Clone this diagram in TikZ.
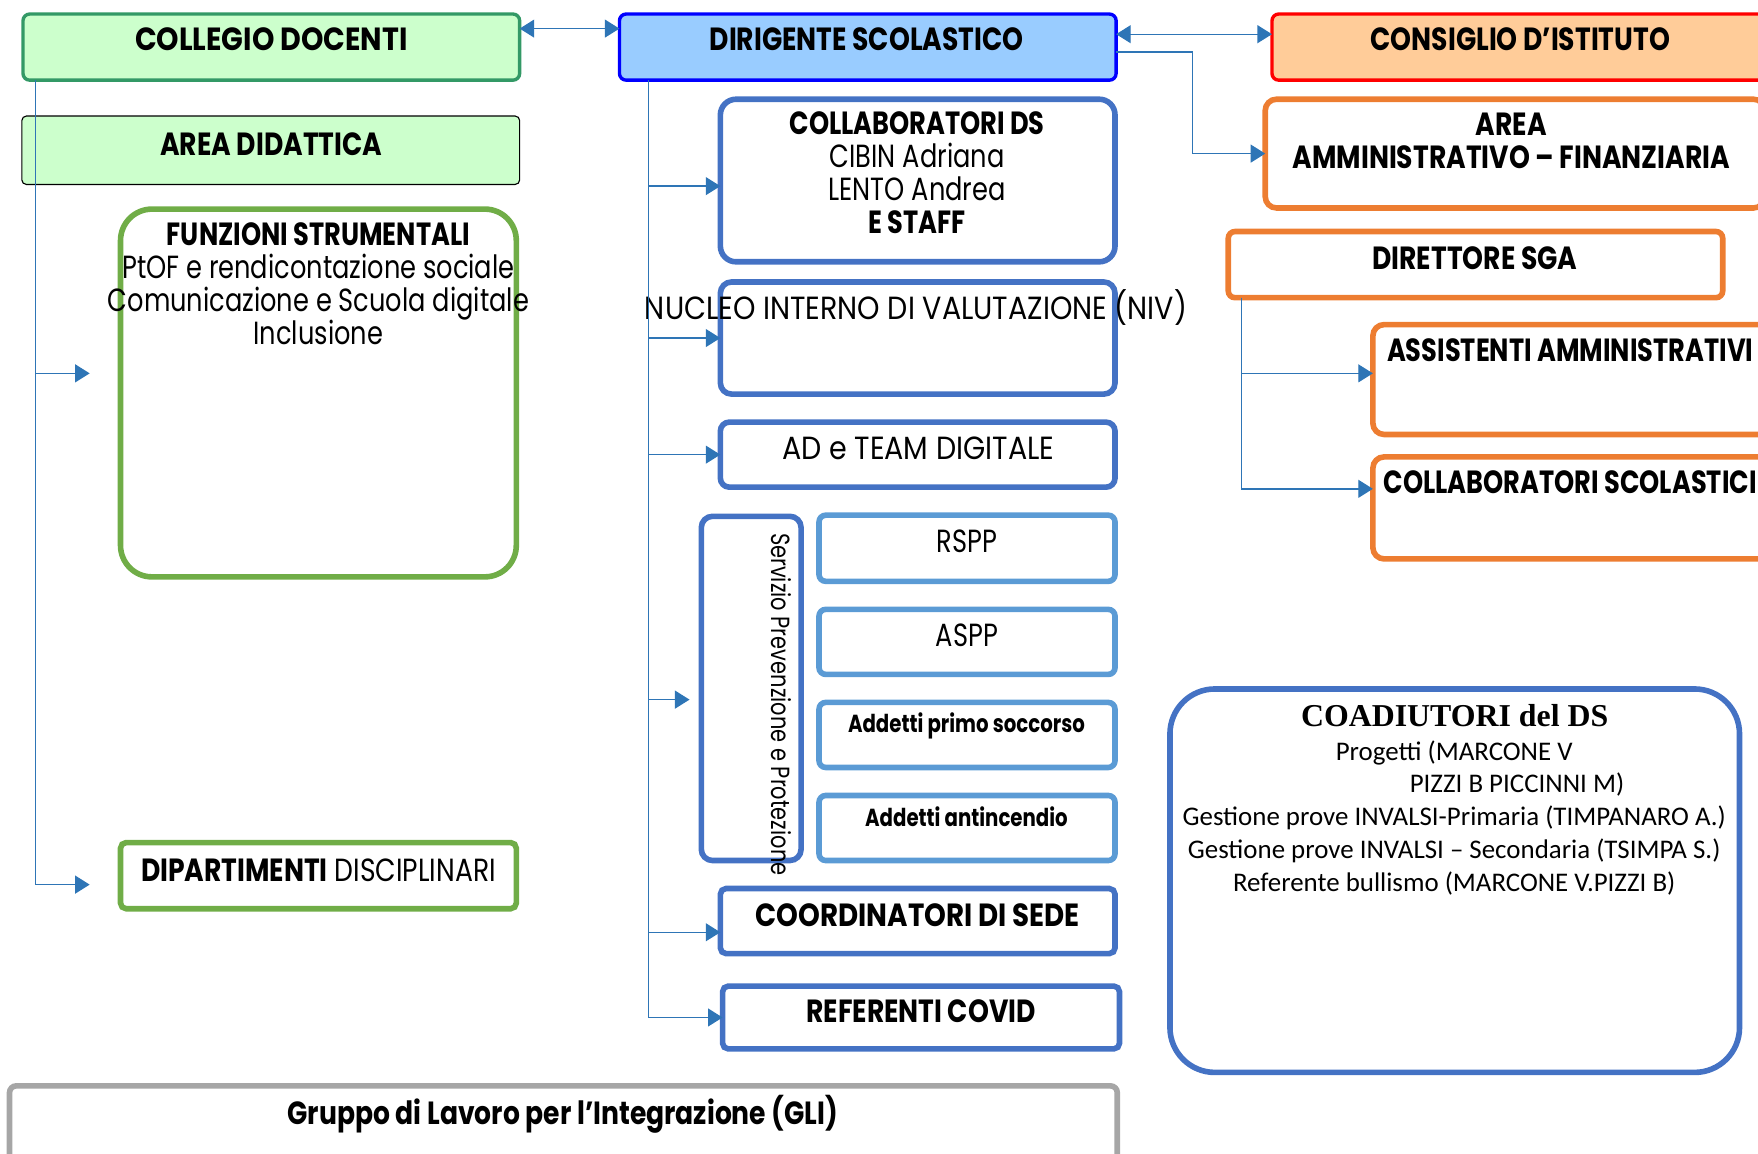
\documentclass[tikz,border=0pt]{standalone}
\usepackage{fontspec}
\usetikzlibrary{arrows.meta,fit,calc}
\newfontfamily\pop[FakeStretch=0.8]{Poppins}
\newfontfamily\popA[FakeStretch=0.83]{Poppins}
\newfontfamily\popC[FakeStretch=0.865]{Poppins}
\newfontfamily\popB[FakeStretch=0.89]{Poppins}
\newfontfamily\carl{Carlito}
\newfontfamily\tnr{Liberation Serif}
\newcommand\rowsm[1]{\smash{#1}}
\definecolor{grfill}{HTML}{CCFFCC}
\definecolor{grdark}{HTML}{339966}
\definecolor{grline}{HTML}{70AD47}
\definecolor{dsfill}{HTML}{99CCFF}
\definecolor{dsline}{HTML}{0000FF}
\definecolor{cifill}{HTML}{FFCC99}
\definecolor{ciline}{HTML}{FF0000}
\definecolor{bline}{HTML}{4472C4}
\definecolor{lbline}{HTML}{5B9BD5}
\definecolor{orline}{HTML}{ED7D31}
\definecolor{gyline}{HTML}{A6A6A6}
\definecolor{connc}{HTML}{2E75B6}
\tikzset{
  bx/.style={fit={#1}, inner sep=0pt, outer sep=0pt},
  collegioS/.style={draw=grdark, fill=grfill, line width=1.5pt, rounded corners=3pt},
  dirigS/.style={draw=dsline, fill=dsfill, line width=1.5pt, rounded corners=3pt},
  consS/.style={draw=ciline, fill=cifill, line width=1.5pt, rounded corners=3pt},
  areadS/.style={draw=black, fill=grfill, line width=0.5pt, rounded corners=2pt},
  greenS/.style={draw=grline, line width=2.5pt, rounded corners=#1},
  blueS/.style={draw=bline, line width=2.5pt, rounded corners=#1},
  lblueS/.style={draw=lbline, line width=2.5pt, rounded corners=3pt},
  orS/.style={draw=orline, line width=2.5pt, rounded corners=#1},
  grayS/.style={draw=gyline, line width=2.5pt, rounded corners=3pt},
  conn/.style={draw=connc, line width=0.6pt},
  arr/.style={-{Triangle[length=6.5pt,width=8pt]}},
  darr/.style={{Triangle[length=6.5pt,width=8pt]}-{Triangle[length=6.5pt,width=8pt]}},
  hb/.style={anchor=base, inner sep=0pt, font={\fontsize{14.3}{14.75}\pop\bfseries}},
  hbw/.style={anchor=base, inner sep=0pt, font={\fontsize{14.3}{14.75}\popA\bfseries}},
  hr/.style={anchor=base, inner sep=0pt, font={\fontsize{14.3}{14.7}\pop}},
  hrw/.style={anchor=base, inner sep=0pt, font={\fontsize{14.3}{14.7}\popB}},
  sb/.style={anchor=base, inner sep=0pt, font={\fontsize{11}{13}\pop\bfseries}},
  cal/.style={anchor=base, inner sep=0pt, font={\fontsize{12}{14.6}\carl}},
}
\begin{document}
\begin{tikzpicture}[x=0.5pt,y=-0.5pt]
\useasboundingbox (0,0) rectangle (1568,1029);
\clip (0,0) rectangle (1568,1029);
% ---- boxes
\node[bx={(20.5,12.5)(463.5,71.5)}, collegioS] (collegio) {};
\node[bx={(552.5,12.5)(995.5,71.5)}, dirigS] (dirig) {};
\node[bx={(1134.5,12.5)(1580,71.5)}, consS] (consig) {};
\node[bx={(19.5,103.5)(463.5,164.5)}, areadS] (aread) {};
\node[bx={(107.5,186.5)(460.5,514.5)}, greenS=14pt] (funz) {};
\node[bx={(107.5,751.5)(460.5,810.5)}, greenS=2.5pt] (dip) {};
\node[bx={(642.5,88.5)(994.5,233.5)}, blueS=7pt] (collab) {};
\node[bx={(642.5,251.5)(994.5,351.5)}, blueS=5pt] (niv) {};
\node[bx={(642.5,376.5)(994.5,434.5)}, blueS=4pt] (ad) {};
\node[bx={(625.5,460.5)(714.5,767.5)}, blueS=5pt] (serv) {};
\node[bx={(730.5,459.5)(994.5,518.5)}, lblueS] (rspp) {};
\node[bx={(730.5,543.5)(994.5,601.5)}, lblueS] (aspp) {};
\node[bx={(730.5,626.5)(994.5,684.5)}, lblueS] (aps) {};
\node[bx={(730.5,709.5)(994.5,767.5)}, lblueS] (aai) {};
\node[bx={(642.5,792.5)(994.5,850.5)}, blueS=2.5pt] (coord) {};
\node[bx={(644.5,879.5)(998.5,935.5)}, blueS=2.5pt] (covid) {};
\node[bx={(1128.5,88.5)(1574,185.5)}, orS=5pt] (areaamm) {};
\node[bx={(1095.5,206.5)(1536.5,265.5)}, orS=3pt] (dsga) {};
\node[bx={(1224.5,289.5)(1580,387.5)}, orS=5pt] (assist) {};
\node[bx={(1224.5,407.5)(1580,498.5)}, orS=5pt] (collsc) {};
\node[bx={(1043.5,614.5)(1551.5,956.5)}, blueS=20pt] (coad) {};
\node[bx={(8.5,968.5)(996.5,1045)}, grayS] (gli) {};
% ---- texts
\node[hb, font={\fontsize{14.3}{14.75}\popB\bfseries}] (collegio-t) at (242,45) {COLLEGIO DOCENTI};
\node[hbw] (dirig-t) at (773,45) {DIRIGENTE SCOLASTICO};
\node[hbw] (consig-t) at (1356,45) {CONSIGLIO D’ISTITUTO};
\node[hbw] (aread-t) at (242,139) {AREA DIDATTICA};
\node[hr] (funz-t) at (284,219) {\begin{tabular}[t]{@{}c@{}}\rowsm{\bfseries FUNZIONI STRUMENTALI}\\
\rowsm{PtOF e rendicontazione sociale}\\ \rowsm{Comunicazione e Scuola digitale}\\ \rowsm{Inclusione}\end{tabular}};
\node[hr, font={\fontsize{14.3}{14.6}\popA}] (dip-t) at (284,786) {\bfseries DIPARTIMENTI\mdseries{} DISCIPLINARI};
\node[hr] (collab-t) at (818,120) {\begin{tabular}[t]{@{}c@{}}\rowsm{\bfseries COLLABORATORI DS}\\
\rowsm{CIBIN Adriana}\\ \rowsm{LENTO Andrea}\\ \rowsm{\bfseries E STAFF}\end{tabular}};
\node[hrw] (niv-t) at (817,285) {NUCLEO INTERNO DI VALUTAZIONE (NIV)};
\node[hrw] (ad-t) at (819,410) {AD e TEAM DIGITALE};
\node[hr, anchor=base west, rotate=-90, font={\fontsize{11.7}{14}\pop}] (serv-t) at (688,475) {Servizio Prevenzione e Protezione};
\node[hr] (rspp-t) at (862.5,493) {RSPP};
\node[hr] (aspp-t) at (862.5,577) {ASPP};
\node[sb] (aps-t) at (862,653) {Addetti primo soccorso};
\node[sb] (aai-t) at (862,737) {Addetti antincendio};
\node[hb, font={\fontsize{14.3}{14.75}\popC\bfseries}] (coord-t) at (818.5,826) {COORDINATORI DI SEDE};
\node[hbw] (covid-t) at (821.5,912) {REFERENTI COVID};
\node[hbw] (areaamm-t) at (1348,121) {\begin{tabular}[t]{@{}c@{}}\rowsm{AREA}\\ \rowsm{AMMINISTRATIVO – FINANZIARIA}\end{tabular}};
\node[hbw] (dsga-t) at (1315.5,240) {DIRETTORE SGA};
\node[hb] (assist-t) at (1400.5,322) {ASSISTENTI AMMINISTRATIVI};
\node[hb] (collsc-t) at (1400.5,440) {COLLABORATORI SCOLASTICI};
\node[anchor=base, inner sep=0pt, font={\fontsize{14.2}{14}\tnr\bfseries}] (coad-t) at (1297.5,648) {COADIUTORI del DS};
\node[cal] (coad-l) at (1297,678) {\begin{tabular}[t]{@{}c@{}}Progetti (MARCONE V\\
\hspace*{56pt}PIZZI B PICCINNI M)\\ Gestione prove INVALSI-Primaria (TIMPANARO A.)\\
Gestione prove INVALSI – Secondaria (TSIMPA S.)\\ Referente bullismo (MARCONE V.PIZZI B)\end{tabular}};
\node[hbw] (gli-t) at (502,1003) {Gruppo di Lavoro per l’Integrazione (GLI)};
% ---- connectors
\draw[conn,darr] ([yshift=-6.5pt]collegio.north east) -- ([yshift=-6.5pt]dirig.north west);
\draw[conn,darr] ([yshift=-9pt]dirig.north east) -- ([yshift=-9pt]consig.north west);
\draw[conn,arr] ([yshift=-17pt]dirig.north east) -- ++(34pt,0) |- (areaamm.west);
% left spine
\coordinate (ltop) at ([xshift=5.5pt]collegio.south west);
\coordinate (funzIn) at (80,333);
\coordinate (dipIn) at (80,789);
\draw[conn,arr] (ltop) |- (dipIn);
\draw[conn,arr] (ltop |- funzIn) -- (funzIn);
% middle spine
\coordinate (mtop) at ([xshift=13pt]dirig.south west);
\coordinate (servIn) at (615,624);
\draw[conn,arr] (mtop) |- (covid.west);
\draw[conn,arr] ([yshift=-2.5pt]mtop |- collab.west) -- ([yshift=-2.5pt]collab.west);
\draw[conn,arr] (mtop |- niv.west) -- (niv.west);
\draw[conn,arr] (mtop |- ad.west) -- (ad.west);
\draw[conn,arr] (mtop |- servIn) -- (servIn);
\draw[conn,arr] ([yshift=-5pt]mtop |- coord.west) -- ([yshift=-5pt]coord.west);
% right spine
\coordinate (rtop) at ([xshift=6pt]dsga.south west);
\draw[conn,arr] (rtop) |- ([yshift=8.5pt]collsc.west);
\draw[conn,arr] ([yshift=2.75pt]rtop |- assist.west) -- ([yshift=2.75pt]assist.west);
\end{tikzpicture}
\end{document}
